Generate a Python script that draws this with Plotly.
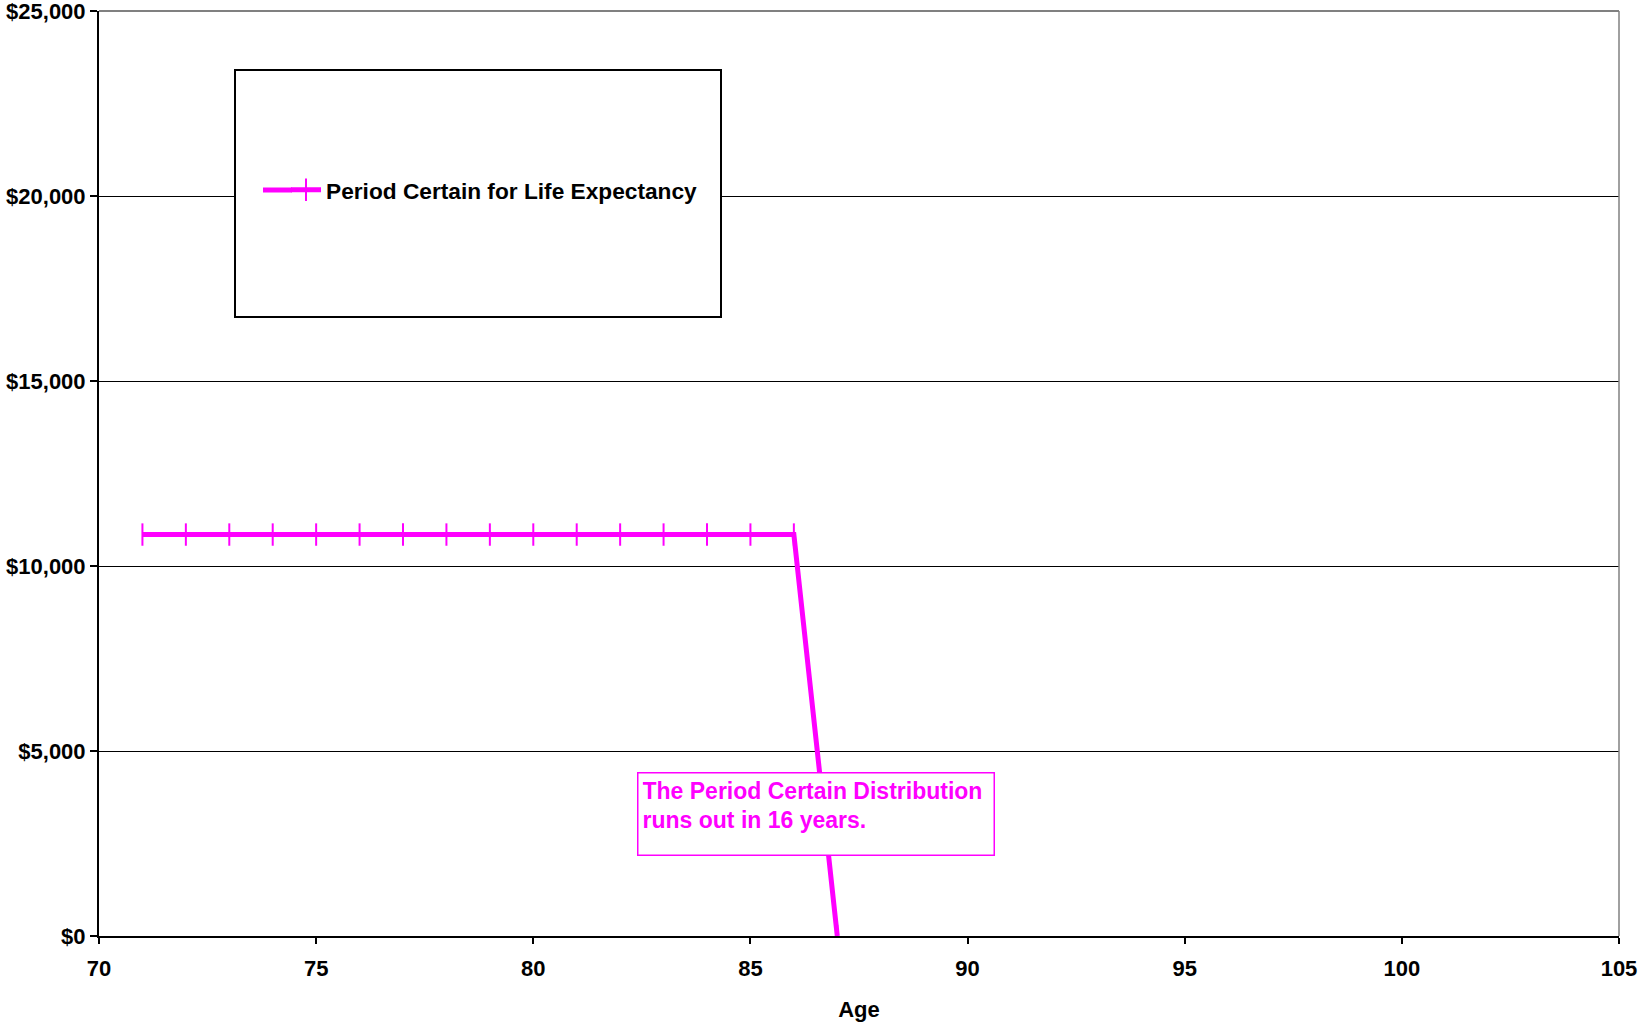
import plotly.graph_objects as go

# Data
ages = [71, 72, 73, 74, 75, 76, 77, 78, 79, 80, 81, 82, 83, 84, 85, 86, 87]
payments = [10850] * 16 + [0]
series_name = "Period Certain for Life Expectancy"
note_text = "The Period Certain Distribution<br>runs out in 16 years."
x_ticks = [70, 75, 80, 85, 90, 95, 100, 105]
y_ticks = [0, 5000, 10000, 15000, 20000, 25000]
y_tick_labels = ["$0", "$5,000", "$10,000", "$15,000", "$20,000", "$25,000"]

MAG = "#FF00FF"
FONT = "Liberation Sans, Arial, sans-serif"

W, H = 1648, 1029
PL, PT, PR, PB = 99, 11, 1619, 936   # plot area in screen pixels
L, T, R, B = PL, PT, W - PR, H - PB
pw, ph = PR - PL, PB - PT

def px(x):
    return (x - PL) / pw

def py(y):
    return (PB - y) / ph

fig = go.Figure()
fig.add_trace(go.Scatter(
    x=ages, y=payments, mode="lines+markers", name=series_name,
    line=dict(color=MAG, width=5),
    marker=dict(symbol="line-ns", size=16, color=MAG, line=dict(color=MAG, width=2)),
))

fig.update_layout(
    width=W, height=H,
    margin=dict(l=L, r=R, t=T, b=B, autoexpand=False),
    paper_bgcolor="white", plot_bgcolor="white",
    font=dict(family=FONT, size=22, color="black", weight="bold"),
    showlegend=True,
    legend=dict(
        x=px(286), y=py(190), xanchor="left", yanchor="middle",
        bgcolor="rgba(0,0,0,0)", borderwidth=0,
        font=dict(family=FONT, size=22.7, color="black", weight="bold"),
    ),
    xaxis=dict(
        range=[70, 105], tickvals=x_ticks, showgrid=False, automargin=False,
        showline=True, linecolor="black", linewidth=2,
        ticks="outside", ticklen=6, tickwidth=2, tickcolor="black",
        tickfont=dict(family=FONT, size=22, color="black", weight="bold"),
        ticklabelstandoff=6, ticklabeloverflow="allow",
        title=dict(text="Age", standoff=21,
                   font=dict(family=FONT, size=22, color="black", weight="bold")),
        zeroline=False,
    ),
    yaxis=dict(
        range=[0, 25000], tickvals=y_ticks, ticktext=y_tick_labels, automargin=False,
        showgrid=True, gridcolor="black", gridwidth=1.3,
        showline=True, linecolor="black", linewidth=2,
        ticks="outside", ticklen=7, tickwidth=2, tickcolor="black",
        tickfont=dict(family=FONT, size=22, color="black", weight="bold"),
        ticklabeloverflow="allow",
        zeroline=False,
    ),
    shapes=[
        # legend box
        dict(type="rect", xref="paper", yref="paper",
             x0=px(235), x1=px(721), y0=py(317), y1=py(70),
             line=dict(color="black", width=2), fillcolor="white", layer="above"),
        # extension of legend line symbol
        dict(type="line", xref="paper", yref="paper",
             x0=px(263), x1=px(292), y0=py(190), y1=py(190),
             line=dict(color=MAG, width=5), layer="above"),
        # gray top and right borders
        dict(type="line", xref="paper", yref="paper", x0=0, x1=1, y0=1, y1=1,
             line=dict(color="#808080", width=2), layer="above"),
        dict(type="line", xref="paper", yref="paper", x0=1, x1=1, y0=0, y1=1,
             line=dict(color="#808080", width=1.5), layer="above"),
    ],
    annotations=[
        dict(text=note_text, xref="paper", yref="paper",
             x=px(637), y=py(772), xanchor="left", yanchor="top",
             align="left", valign="top", showarrow=False,
             width=347, height=73, borderpad=4, borderwidth=1.5,
             bordercolor=MAG, bgcolor="white",
             font=dict(family=FONT, size=23, color=MAG, weight="bold")),
    ],
)

fig.write_html("out.html", config={"displayModeBar": False},
               post_script="document.body.style.margin='0';")
